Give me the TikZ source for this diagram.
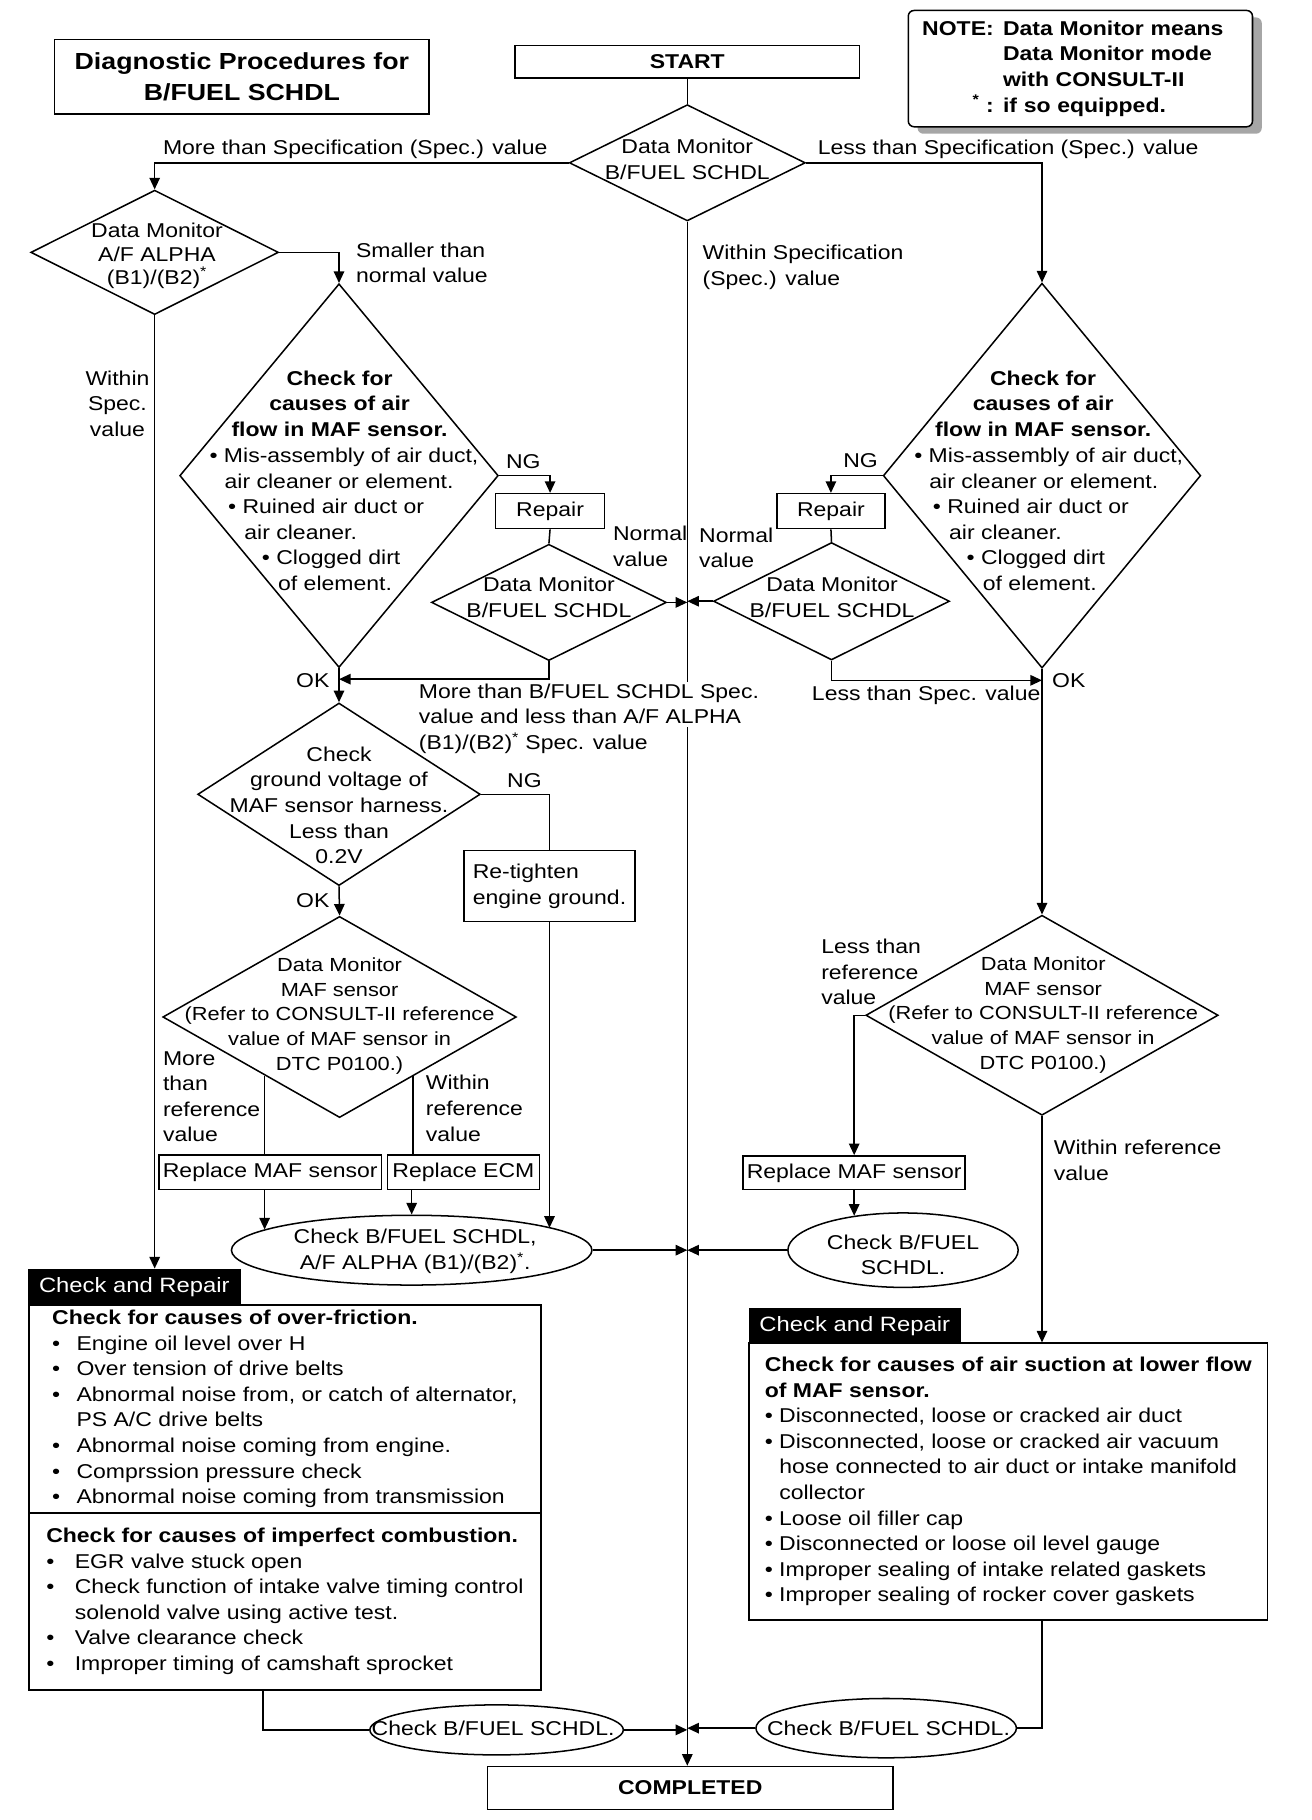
\documentclass[tikz,border=0pt]{standalone}
\usepackage{fontspec}
\setmainfont{Liberation Sans}[FakeStretch=1.15]
\usetikzlibrary{shapes.geometric, arrows.meta, shadows}
\newcommand\titlesize{\fontsize{20}{27}\selectfont}
\newcommand\refsize{\fontsize{16.3}{21.3}\selectfont}
\newcommand\tabsize{\fontsize{17.8}{22}\selectfont}
\begin{document}
\begin{tikzpicture}[
  x=1pt, y=-1pt,
  box/.style={draw, line width=1.3pt, inner sep=0pt},
  dia/.style={diamond, draw, line width=1.3pt, inner sep=0pt},
  ell/.style={ellipse, draw, line width=1.3pt, inner sep=0pt},
  tab/.style={fill=black, text=white, inner sep=0pt, font=\tabsize},
  txt/.style={inner sep=0pt, align=center},
  lbl/.style={inner sep=0pt, align=left, anchor=west},
  wire/.style={line width=1.3pt},
  arr/.style={wire, -{Triangle[length=10pt,width=9pt]}}
]
\fontsize{17.2}{22}\selectfont
\useasboundingbox (0,0) rectangle (1128,1565);

% --- header ---
\node[box, minimum width=322, minimum height=64, font=\titlesize\bfseries, align=center] (title) at (208,66) {Diagnostic Procedures for\\B/FUEL SCHDL};
\node[box, minimum width=296, minimum height=28, font=\bfseries] (start) at (591,53) {START};
\node[box, rounded corners=5pt, fill=white, minimum width=296, minimum height=100, text width=272, inner xsep=12pt, align=left, font=\bfseries,
      drop shadow={shadow xshift=8pt, shadow yshift=-6pt, fill=black!35, opacity=1}] (note) at (929,59)
  {\begin{tabular}{@{}r@{\hspace{8pt}}l@{}}NOTE: & Data Monitor means\\ & Data Monitor mode\\ & with CONSULT-II\\ \textsuperscript{*}\ : & if so equipped.\end{tabular}};

% --- first check ---
\node[dia, minimum width=203, minimum height=100] (dm1) at (591,140) {};
\node[txt] (dm1t) at (591,137) {Data Monitor\\B/FUEL SCHDL};

% --- left column ---
\node[dia, minimum width=213, minimum height=107] (afa) at (133,217) {};
\node[txt, font=\fontsize{17.2}{20}\selectfont] (afat) at (135,220) {Data Monitor\\A/F ALPHA\\(B1)/(B2)\textsuperscript{*}};

\node[dia, minimum width=274, minimum height=330] (mafL) at (291.5,409) {};
\node[txt, font=\bfseries] (mafLh) at (292,347) {Check for\\causes of air\\flow in MAF sensor.};
\node[lbl] (mafLb) at (180,446.5) {• Mis-assembly of air duct,\\\hspace*{13pt}air cleaner or element.\\\hspace*{16pt}• Ruined air duct or\\\hspace*{30pt}air cleaner.\\\hspace*{45pt}• Clogged dirt\\\hspace*{59pt}of element.};

\node[box, minimum width=94, minimum height=30] (repL) at (473,439.5) {Repair};
\node[dia, minimum width=202, minimum height=100] (dmL) at (472,518) {};
\node[txt] (dmLt) at (472,513.5) {Data Monitor\\B/FUEL SCHDL};

\node[dia, minimum width=243, minimum height=157] (gnd) at (291.5,683) {};
\node[txt] (gndt) at (291.5,692.5) {Check\\ground voltage of\\MAF sensor harness.\\Less than\\0.2V};
\node[box, minimum width=147, minimum height=61, align=left] (retight) at (472.5,762) {Re-tighten\\engine ground.};

\node[dia, minimum width=304, minimum height=173] (mafsL) at (292,874.5) {};
\node[txt, font=\refsize] (mafsLt) at (292,873.6) {Data Monitor\\MAF sensor\\(Refer to CONSULT-II reference\\value of MAF sensor in\\DTC P0100.)};
\node[box, minimum width=191, minimum height=30] (repMAFL) at (232.4,1008) {Replace MAF sensor};
\node[box, minimum width=131, minimum height=30] (repECM) at (398.5,1008) {Replace ECM};
\node[ell, minimum width=310, minimum height=60] (chkL) at (354,1075) {};
\node[txt] (chkLt) at (357,1076) {Check B/FUEL SCHDL,\\A/F ALPHA (B1)/(B2)\textsuperscript{*}.};

% --- right column ---
\node[dia, minimum width=273, minimum height=331] (mafR) at (896,409) {};
\node[txt, font=\bfseries] (mafRh) at (897,347) {Check for\\causes of air\\flow in MAF sensor.};
\node[lbl] (mafRb) at (786,446.5) {• Mis-assembly of air duct,\\\hspace*{13pt}air cleaner or element.\\\hspace*{16pt}• Ruined air duct or\\\hspace*{30pt}air cleaner.\\\hspace*{45pt}• Clogged dirt\\\hspace*{59pt}of element.};

\node[box, minimum width=93, minimum height=30] (repR) at (714.5,439.5) {Repair};
\node[dia, minimum width=203, minimum height=101] (dmR) at (715,517) {};
\node[txt] (dmRt) at (715.5,513.5) {Data Monitor\\B/FUEL SCHDL};

\node[dia, minimum width=303, minimum height=172] (mafsR) at (896,873) {};
\node[txt, font=\refsize] (mafsRt) at (897,872.7) {Data Monitor\\MAF sensor\\(Refer to CONSULT-II reference\\value of MAF sensor in\\DTC P0100.)};
\node[box, minimum width=191, minimum height=29] (repMAFR) at (734.5,1008.5) {Replace MAF sensor};
\node[ell, minimum width=198, minimum height=64] (chkR) at (776.5,1075) {};
\node[txt] (chkRt) at (776.5,1079) {Check B/FUEL\\SCHDL.};

% --- check and repair boxes ---
\node[tab, minimum width=183, minimum height=31] (tabL) at (115.5,1106.5) {Check and Repair};
\node[box, minimum width=440, minimum height=179, align=left] (friL) at (245,1211.5)
  {{\bfseries Check for causes of over-friction.}\\
   \makebox[21pt][l]{•}Engine oil level over H\\
   \makebox[21pt][l]{•}Over tension of drive belts\\
   \makebox[21pt][l]{•}Abnormal noise from, or catch of alternator,\\
   \makebox[21pt][l]{}PS A/C drive belts\\
   \makebox[21pt][l]{•}Abnormal noise coming from engine.\\
   \makebox[21pt][l]{•}Comprssion pressure check\\
   \makebox[21pt][l]{•}Abnormal noise coming from transmission};
\node[box, minimum width=440, minimum height=152, align=left] (cmbL) at (245,1377)
  {{\bfseries Check for causes of imperfect combustion.}\\
   \makebox[24.5pt][l]{•}EGR valve stuck open\\
   \makebox[24.5pt][l]{•}Check function of intake valve timing control\\
   \makebox[24.5pt][l]{}solenold valve using active test.\\
   \makebox[24.5pt][l]{•}Valve clearance check\\
   \makebox[24.5pt][l]{•}Improper timing of camshaft sprocket};

\node[tab, minimum width=182, minimum height=30] (tabR) at (735,1140) {Check and Repair};
\node[box, minimum width=446, minimum height=238, align=left] (cauR) at (867,1274)
  {{\bfseries Check for causes of air suction at lower flow}\\
   {\bfseries of MAF sensor.}\\
   • Disconnected, loose or cracked air duct\\
   • Disconnected, loose or cracked air vacuum\\
   \hspace*{12.5pt}hose connected to air duct or intake manifold\\
   \hspace*{12.5pt}collector\\
   • Loose oil filler cap\\
   • Disconnected or loose oil level gauge\\
   • Improper sealing of intake related gaskets\\
   • Improper sealing of rocker cover gaskets};

\node[ell, minimum width=218, minimum height=43] (chkC) at (427,1487.5) {};
\node[txt] (chkCt) at (424,1486) {Check B/FUEL SCHDL.};
\node[ell, minimum width=224, minimum height=51] (chkD) at (762,1486) {};
\node[txt] (chkDt) at (764,1486) {Check B/FUEL SCHDL.};

\node[box, minimum width=349, minimum height=37, font=\bfseries] (done) at (593.5,1537.5) {COMPLETED};

% --- junctions ---
\coordinate (okL) at (291.5,584);
\coordinate (okR) at (896,585);

% --- connectors ---
\draw[wire] (start.south) -- (dm1.north);
\draw[arr] (dm1.south) -- (dm1.south |- done.north);
\draw[arr] (dm1.west) -| (afa.north);
\draw[arr] (dm1.east) -| (mafR.north);
\draw[arr] (afa.east) -| (mafL.north);
\draw[arr] (afa.south) -- (afa.south |- tabL.north);

\draw[arr] (mafL.east) -| (repL.north);
\draw[wire] (repL.south) -- (dmL.north);
\draw[arr] (dmL.east) -- (dmL.east -| dm1.south);
\draw[arr] (dmL.south) |- (okL);
\draw[arr] (mafL.south) -- (gnd.north);

\draw[arr] (mafR.west) -| (repR.north);
\draw[wire] (repR.south) -- (dmR.north);
\draw[arr] (dmR.west) -- (dmR.west -| dm1.south);
\draw[arr] (dmR.south) |- (okR);
\draw[arr] (mafR.south) -- (mafsR.north);

\draw[wire] (gnd.east) -| (retight.north);
\draw[arr] (retight.south) -- (retight.south |- chkL.9);
\draw[arr] (gnd.south) -- (mafsL.north);
\draw[wire] (mafsL.-142) -- (mafsL.-142 |- repMAFL.north);
\draw[wire] (mafsL.-39) -- (mafsL.-39 |- repECM.north);
\draw[arr] (mafsL.-142 |- repMAFL.south) -- (mafsL.-142 |- chkL.172);
\draw[arr] (chkL.north |- repECM.south) -- (chkL.north);
\draw[arr] (chkL.east) -- (chkL.east -| dm1.south);

\draw[arr] (mafsR.west) -| (repMAFR.north);
\draw[arr] (repMAFR.south) -- (repMAFR.south |- chkR.145);
\draw[arr] (chkR.west) -- (chkR.west -| dm1.south);
\draw[arr] (mafsR.south) -- (mafsR.south |- cauR.north);

\draw[wire] ([xshift=-19pt]cmbL.south) |- (chkC.west);
\draw[arr] (chkC.east) -- (chkC.east -| dm1.south);
\draw[wire] (mafsR.south |- cauR.south) |- (chkD.east);
\draw[arr] (chkD.west) -- (chkD.west -| dm1.south);

% --- branch labels ---
\node[lbl] (lbMore) at (140,128) {More than Specification (Spec.) value};
\node[lbl] (lbLess) at (703,128) {Less than Specification (Spec.) value};
\node[lbl] (lbWithin) at (604,230) {Within Specification\\(Spec.) value};
\node[lbl] (lbSmall) at (306,226) {Smaller than\\normal value};
\node[txt] (lbWspec) at (101,347) {Within\\Spec.\\value};
\node[txt] (ngL) at (450,397) {NG};
\node[txt] (ngR) at (740,396) {NG};
\node[lbl] (lbNormL) at (527,470) {Normal\\value};
\node[lbl] (lbNormR) at (601,471) {Normal\\value};
\node[txt] (okLt) at (269,585) {OK};
\node[txt] (okRt) at (919,585) {OK};
\node[lbl, fill=white, inner ysep=2pt] (lbMidA) at (360,605.4) {More than B/FUEL SCHDL Spec.\\value and less than A/F ALPHA};
\node[lbl] (lbMidB) at (360,639) {(B1)/(B2)\textsuperscript{*} Spec. value};
\node[lbl] (lbLessS) at (698,598) {Less than Spec. value};
\node[txt] (ngG) at (451,671) {NG};
\node[txt] (okG) at (269,774) {OK};
\node[lbl] (lbMoreRef) at (140,943) {More\\than\\reference\\value};
\node[lbl] (lbWithinRef) at (366,953) {Within\\reference\\value};
\node[lbl] (lbLessRef) at (706,836) {Less than\\reference\\value};
\node[lbl] (lbWithinRefR) at (906,998) {Within reference\\value};

\end{tikzpicture}
\end{document}
